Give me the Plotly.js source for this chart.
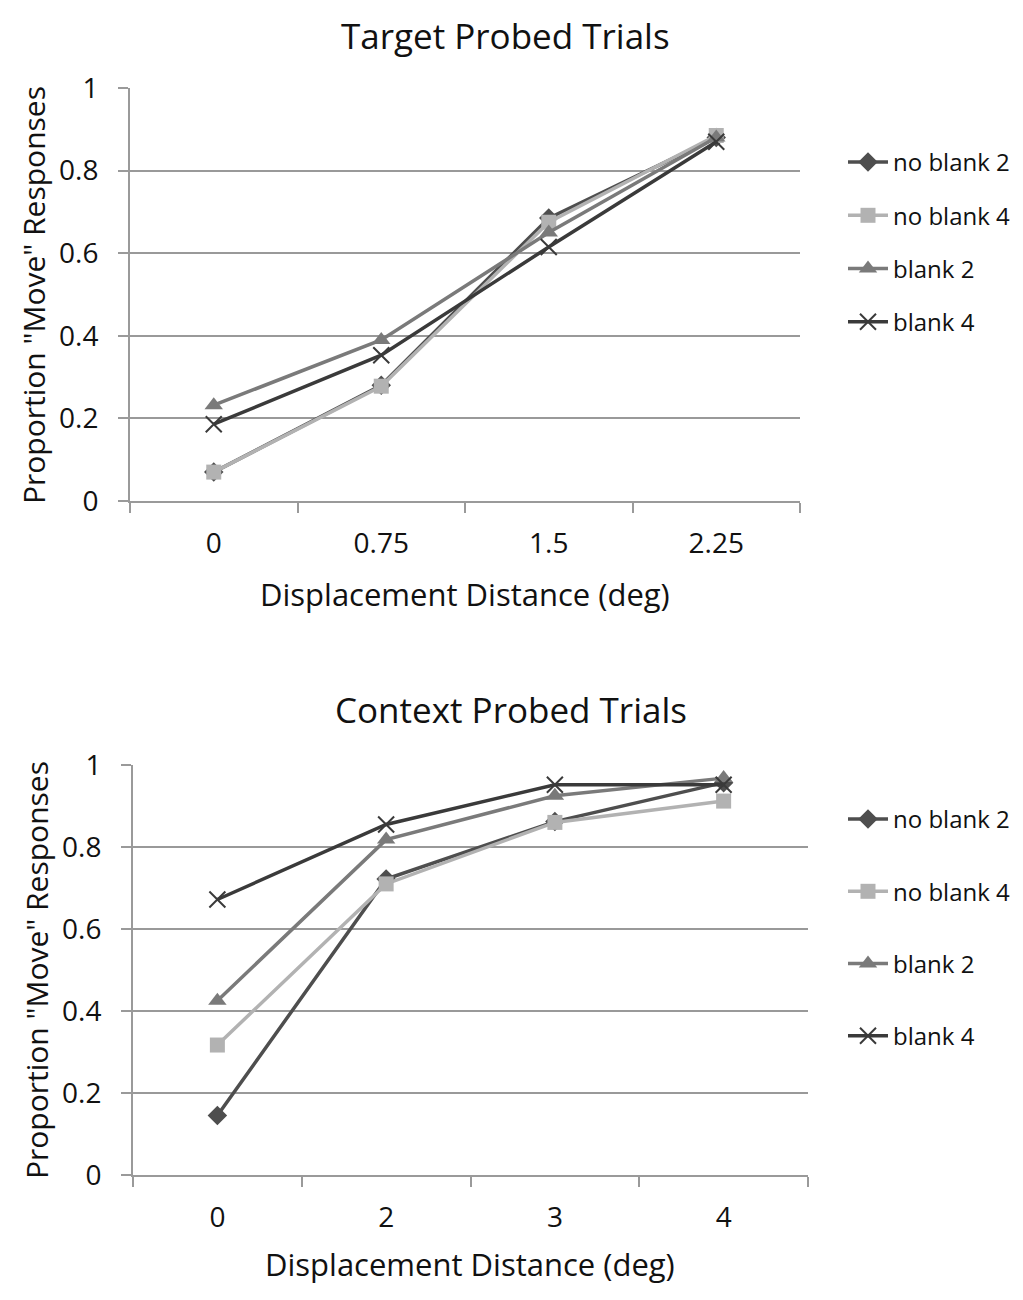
<!DOCTYPE html>
<html>
<head>
<meta charset="utf-8">
<script src="https://cdn.plot.ly/plotly-3.0.1.min.js"></script>
<style>
  body { margin: 0; background: #fff; }
  #chart { width: 1023px; height: 1300px; }
</style>
</head>
<body>
<div id="chart"></div>
<script>
// series names, shared by both panels
var seriesNames = ['no blank 2', 'no blank 4', 'blank 2', 'blank 4']

// top panel: target probed trials
var targetX = ['0', '0.75', '1.5', '2.25']
var targetNoBlank2 = [0.07, 0.28, 0.685, 0.88]
var targetNoBlank4 = [0.07, 0.278, 0.675, 0.885]
var targetBlank2 = [0.232, 0.39, 0.65, 0.88]
var targetBlank4 = [0.186, 0.353, 0.615, 0.87]

// bottom panel: context probed trials
var contextX = ['0', '2', '3', '4']
var contextNoBlank2 = [0.145, 0.722, 0.862, 0.957]
var contextNoBlank4 = [0.317, 0.71, 0.86, 0.912]
var contextBlank2 = [0.425, 0.818, 0.925, 0.968]
var contextBlank4 = [0.672, 0.855, 0.952, 0.952]

var yTicks = [0, 0.2, 0.4, 0.6, 0.8, 1]
var yTickText = ['0', '0.2', '0.4', '0.6', '0.8', '1']

var styles = [
  { color: '#4e4e4e', symbol: 'diamond', size: 15 },
  { color: '#b2b2b2', symbol: 'square', size: 15 },
  { color: '#7a7a7a', symbol: 'triangle-up', size: 16 },
  { color: '#3a3a3a', symbol: 'x-thin-open', size: 16 }
]

function make_traces(xs, ys_list, xaxis, yaxis, legend) {
  var out = []
  for (var i = 0; i < ys_list.length; i++) {
    var st = styles[i]
    out.push({
      x: xs,
      y: ys_list[i],
      name: seriesNames[i],
      type: 'scatter',
      mode: 'lines+markers',
      xaxis: xaxis,
      yaxis: yaxis,
      legend: legend,
      legendgroup: legend + '_' + i,
      line: { color: st.color, width: 3.5 },
      marker: {
        symbol: st.symbol,
        size: st.size,
        color: st.color,
        line: { color: st.color, width: st.symbol == 'x-thin-open' ? 2 : 0 }
      }
    })
  }
  return out
}

var data = make_traces(targetX,
  [targetNoBlank2, targetNoBlank4, targetBlank2, targetBlank4], 'x', 'y', 'legend')
  .concat(make_traces(contextX,
  [contextNoBlank2, contextNoBlank4, contextBlank2, contextBlank4], 'x2', 'y2', 'legend2'))

var W = 1023, H = 1300
function px(v) { return v / W }
function py(v) { return 1 - v / H }

var fontFam = '"Open Sans", "DejaVu Sans", sans-serif'

var xaxisBase = {
  type: 'category',
  range: [-0.5, 3.5],
  showgrid: false,
  zeroline: false,
  showline: true,
  linecolor: '#9a9a9a',
  linewidth: 2,
  ticks: 'outside',
  tickson: 'boundaries',
  ticklen: 10,
  tickwidth: 2,
  tickcolor: '#9a9a9a',
  ticklabelstandoff: 16,
  tickfont: { size: 28, color: '#111' },
  fixedrange: true
}

var yaxisBase = {
  range: [0, 1],
  tickvals: yTicks,
  ticktext: yTickText,
  showgrid: true,
  gridcolor: '#999999',
  gridwidth: 2,
  zeroline: false,
  showline: true,
  linecolor: '#9a9a9a',
  linewidth: 2,
  ticks: 'outside',
  ticklen: 10,
  tickwidth: 2,
  tickcolor: '#9a9a9a',
  ticklabelstandoff: 14,
  tickfont: { size: 28, color: '#111' },
  fixedrange: true
}

var legendBase = {
  xanchor: 'left', yanchor: 'top',
  font: { size: 24, color: '#111' },
  itemwidth: 40,
  bgcolor: 'rgba(0,0,0,0)'
}

function label(text, x, y, size, angle) {
  return {
    text: text, xref: 'paper', yref: 'paper', x: px(x), y: py(y),
    xanchor: 'center', yanchor: 'middle', showarrow: false,
    textangle: angle || 0, font: { size: size }
  }
}

var layout = {
  width: W,
  height: H,
  margin: { l: 0, r: 0, t: 0, b: 0 },
  paper_bgcolor: '#fff',
  plot_bgcolor: '#fff',
  font: { family: fontFam, color: '#111' },
  xaxis: Object.assign({}, xaxisBase, { domain: [px(130), px(800)], anchor: 'y' }),
  yaxis: Object.assign({}, yaxisBase, { domain: [py(501), py(88)], anchor: 'x' }),
  xaxis2: Object.assign({}, xaxisBase, { domain: [px(133), px(808)], anchor: 'y2' }),
  yaxis2: Object.assign({}, yaxisBase, { domain: [py(1175), py(765)], anchor: 'x2' }),
  legend: Object.assign({}, legendBase, { x: px(843), y: py(140), tracegroupgap: 19 }),
  legend2: Object.assign({}, legendBase, { x: px(843), y: py(797), tracegroupgap: 38 }),
  annotations: [
    label('Target Probed Trials', 505, 35, 35),
    label('Context Probed Trials', 511, 710, 35),
    label('Displacement Distance (deg)', 465, 594, 31),
    label('Displacement Distance (deg)', 470, 1264, 31),
    label('Proportion "Move" Responses', 34, 295, 30, -90),
    label('Proportion "Move" Responses', 36, 970, 30, -90)
  ]
}

Plotly.newPlot('chart', data, layout, { displayModeBar: false, staticPlot: true })
</script>
</body>
</html>
